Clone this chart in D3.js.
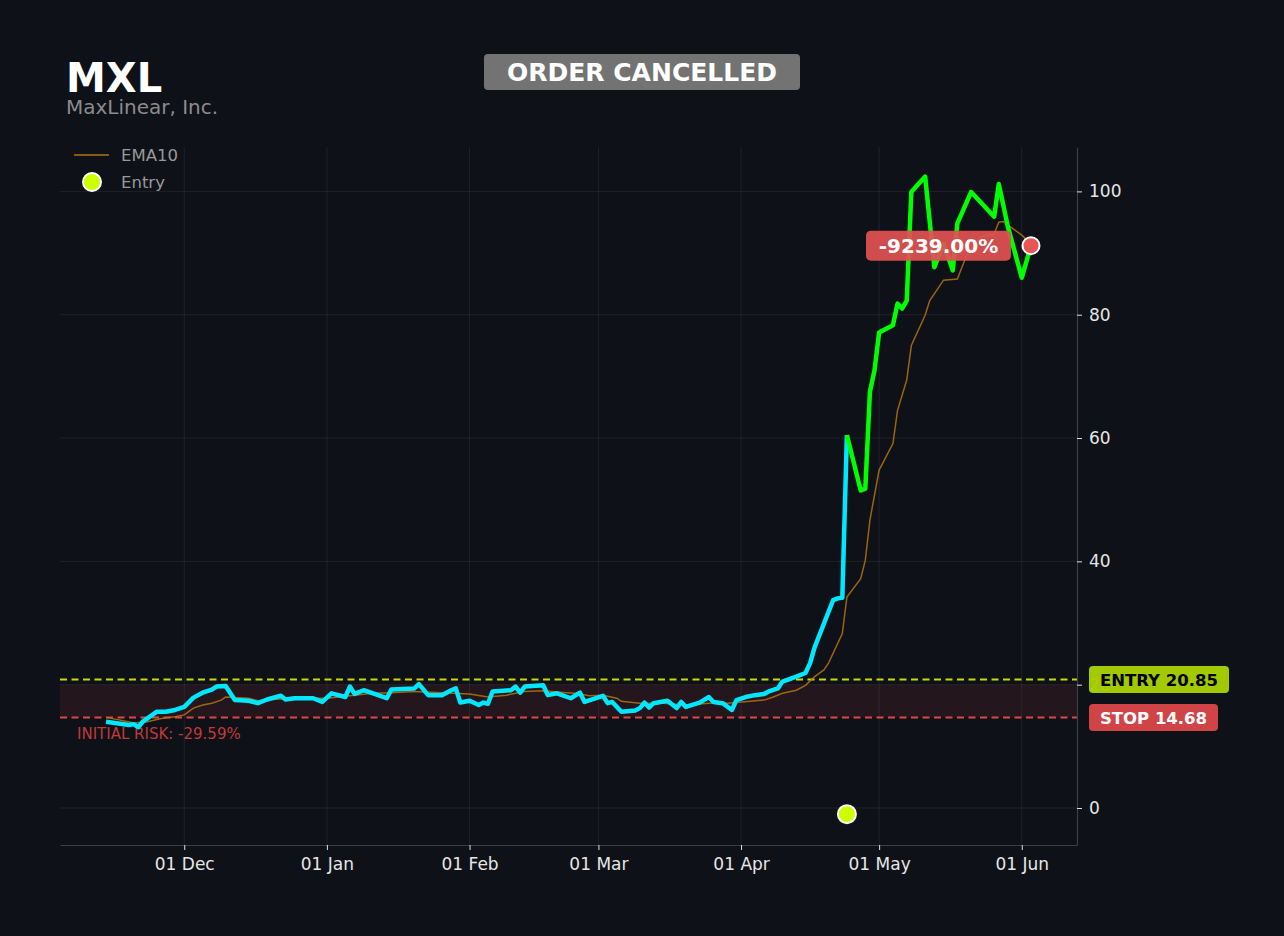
<!DOCTYPE html>
<html>
<head>
<meta charset="utf-8">
<script src="https://cdn.jsdelivr.net/npm/d3@7"></script>
<style>
  html, body { margin: 0; padding: 0; background: #0e1117; }
  svg { display: block; font-family: "DejaVu Sans", sans-serif; }
</style>
</head>
<body>
<div id="chart"></div>
<script>
// price closes
const priceDates = [
  "2024-11-14","2024-11-19","2024-11-20","2024-11-21","2024-11-22","2024-11-25","2024-11-27","2024-11-29",
  "2024-12-01","2024-12-03","2024-12-05","2024-12-07","2024-12-08","2024-12-10","2024-12-12","2024-12-15",
  "2024-12-17","2024-12-19","2024-12-22","2024-12-23","2024-12-25","2024-12-28","2024-12-29","2024-12-31",
  "2025-01-02","2025-01-05","2025-01-06","2025-01-07","2025-01-09","2025-01-14","2025-01-15","2025-01-20",
  "2025-01-21","2025-01-23","2025-01-26","2025-01-28","2025-01-29","2025-01-30","2025-02-01","2025-02-03",
  "2025-02-04","2025-02-05","2025-02-06","2025-02-10","2025-02-11","2025-02-12","2025-02-13","2025-02-17",
  "2025-02-18","2025-02-20","2025-02-23","2025-02-25","2025-02-26","2025-03-02","2025-03-03","2025-03-04",
  "2025-03-06","2025-03-09","2025-03-10","2025-03-11","2025-03-12","2025-03-13","2025-03-16","2025-03-18",
  "2025-03-19","2025-03-20","2025-03-23","2025-03-25","2025-03-26","2025-03-28","2025-03-30","2025-03-31",
  "2025-04-02","2025-04-04","2025-04-06","2025-04-07","2025-04-09","2025-04-10","2025-04-13","2025-04-15",
  "2025-04-16","2025-04-17","2025-04-21","2025-04-22","2025-04-23","2025-04-24","2025-04-27","2025-04-28",
  "2025-04-29","2025-04-30","2025-05-01","2025-05-04","2025-05-05","2025-05-06","2025-05-07","2025-05-08",
  "2025-05-11","2025-05-13","2025-05-15","2025-05-17","2025-05-18","2025-05-21","2025-05-26","2025-05-27",
  "2025-05-28","2025-05-29","2025-06-01","2025-06-03"
];
const priceValues = [
  14.0,13.45,13.6,13.1,14.0,15.6,15.6,15.9,
  16.4,17.9,18.7,19.2,19.7,19.8,17.5,17.4,
  17.0,17.6,18.2,17.6,17.8,17.8,17.8,17.2,
  18.6,18.0,19.7,18.5,19.1,17.8,19.2,19.4,
  20.1,18.3,18.3,19.1,19.4,17.1,17.4,16.7,
  17.1,16.9,18.9,19.1,19.7,18.7,19.7,19.9,
  18.3,18.6,17.8,18.7,17.2,18.2,17.0,17.2,
  15.6,15.8,16.2,17.1,16.3,17.0,17.4,16.2,
  17.2,16.4,17.1,18.0,17.2,17.0,15.9,17.5,
  18.0,18.3,18.5,18.9,19.4,20.5,21.3,21.9,
  23.5,26.1,33.7,34.0,34.1,60.5,51.5,51.8,
  67.5,71.0,77.1,78.3,81.8,81.0,82.3,99.9,
  102.4,87.7,91.5,87.2,94.8,99.9,95.9,101.2,
  97.7,94.2,86.0,91.2
];

// EMA10
const emaDates = [
  "2024-11-14","2024-11-18","2024-11-20","2024-11-23","2024-11-26","2024-11-29","2024-12-01","2024-12-03",
  "2024-12-05","2024-12-07","2024-12-09","2024-12-10","2024-12-15","2024-12-17","2024-12-20","2024-12-25",
  "2025-01-01","2025-01-07","2025-01-11","2025-01-15","2025-01-20","2025-01-26","2025-02-01","2025-02-05",
  "2025-02-09","2025-02-13","2025-02-17","2025-02-22","2025-02-24","2025-02-27","2025-03-02","2025-03-05",
  "2025-03-06","2025-03-10","2025-03-15","2025-03-20","2025-03-25","2025-03-29","2025-03-31","2025-04-03",
  "2025-04-06","2025-04-08","2025-04-10","2025-04-13","2025-04-15","2025-04-17","2025-04-19","2025-04-20",
  "2025-04-23","2025-04-24","2025-04-27","2025-04-28","2025-04-29","2025-05-01","2025-05-04","2025-05-05",
  "2025-05-07","2025-05-08","2025-05-11","2025-05-12","2025-05-15","2025-05-18","2025-05-20","2025-05-23",
  "2025-05-26","2025-05-27","2025-05-28","2025-06-01","2025-06-03"
];
const emaValues = [
  14.7,14.1,13.8,14.0,14.5,14.8,15.1,16.2,
  16.7,17.0,17.5,18.0,17.8,17.4,17.6,17.8,
  17.8,18.3,18.6,18.7,18.9,18.7,18.5,18.0,
  18.3,18.9,19.0,18.7,18.6,18.2,18.3,17.8,
  17.3,17.0,17.0,16.7,17.0,17.0,17.1,17.3,
  17.5,18.0,18.6,19.1,19.9,21.3,22.4,23.5,
  28.3,34.2,37.2,40.2,46.7,54.8,59.1,64.5,
  69.4,75.0,79.9,82.3,85.6,85.8,89.6,92.6,
  93.1,95.0,95.1,92.9,91.5
];

const ticker = "MXL";
const companyName = "MaxLinear, Inc.";
const statusText = "ORDER CANCELLED";
const entryDate = "2025-04-24";
const entryMarkerValue = -1.0;
const entryPrice = 20.85;
const stopPrice = 14.68;
const riskBandTop = 20.0;
const riskText = "INITIAL RISK: -29.59%";
const pnlText = "-9239.00%";
const yTicks = [0, 20, 40, 60, 80, 100];
const xTicks = ["2024-12-01","2025-01-01","2025-02-01","2025-03-01","2025-04-01","2025-05-01","2025-06-01"];
const xDomain = ["2024-11-04", "2025-06-13"];
const yDomain = [-6.0, 107.2];

const width = 1284, height = 936;
const marginTop = 147, marginRight = 207, marginBottom = 91, marginLeft = 60;

const parse = d3.utcParse("%Y-%m-%d");
const price = priceDates.map((d, i) => ({ date: parse(d), value: priceValues[i] }));
const ema = emaDates.map((d, i) => ({ date: parse(d), value: emaValues[i] }));
const entryT = parse(entryDate);

const x = d3.scaleUtc()
  .domain(xDomain.map(parse))
  .range([marginLeft, width - marginRight]);

const y = d3.scaleLinear()
  .domain(yDomain)
  .range([height - marginBottom, marginTop]);

const svg = d3.select("#chart").append("svg")
  .attr("width", width)
  .attr("height", height)
  .attr("viewBox", `0 0 ${width} ${height}`);

svg.append("rect").attr("width", width).attr("height", height).attr("fill", "#0e1117");

// gridlines
svg.append("g")
  .attr("stroke", "#ffffff").attr("stroke-opacity", 0.07).attr("stroke-width", 1)
  .call(g => g.selectAll(".gx").data(xTicks.map(parse)).join("line")
    .attr("x1", d => x(d)).attr("x2", d => x(d))
    .attr("y1", marginTop).attr("y2", height - marginBottom))
  .call(g => g.selectAll(".gy").data(yTicks).join("line")
    .attr("x1", marginLeft).attr("x2", width - marginRight)
    .attr("y1", d => y(d)).attr("y2", d => y(d)));

// risk band between stop and entry
svg.append("rect")
  .attr("x", marginLeft)
  .attr("width", width - marginRight - marginLeft)
  .attr("y", y(riskBandTop))
  .attr("height", y(stopPrice) - y(riskBandTop))
  .attr("fill", "#e0404a").attr("fill-opacity", 0.1);

svg.append("line")
  .attr("x1", marginLeft).attr("x2", width - marginRight)
  .attr("y1", y(entryPrice)).attr("y2", y(entryPrice))
  .attr("stroke", "#c8dc00").attr("stroke-width", 2).attr("stroke-dasharray", "7,4.5");

svg.append("line")
  .attr("x1", marginLeft).attr("x2", width - marginRight)
  .attr("y1", y(stopPrice)).attr("y2", y(stopPrice))
  .attr("stroke", "#e04646").attr("stroke-width", 2).attr("stroke-dasharray", "7,4.5");

svg.append("text")
  .attr("x", 77).attr("y", y(stopPrice) + 22)
  .attr("fill", "#c0393b").attr("font-size", 15)
  .text(riskText);

// axes
svg.append("g")
  .attr("transform", `translate(0,${height - marginBottom})`)
  .call(d3.axisBottom(x).tickValues(xTicks.map(parse)).tickFormat(d3.utcFormat("%d %b"))
    .tickSize(5).tickSizeOuter(0).tickPadding(8))
  .call(g => g.select(".domain").attr("stroke", "#3a3e46").attr("stroke-width", 1.2))
  .call(g => g.selectAll(".tick line").attr("stroke", "#e0e0e0"))
  .call(g => g.selectAll(".tick text").attr("fill", "#e6e6e6").attr("font-size", 17).attr("font-family", "DejaVu Sans"));

svg.append("g")
  .attr("transform", `translate(${width - marginRight},0)`)
  .call(d3.axisRight(y).tickValues(yTicks).tickSize(5).tickSizeOuter(0).tickPadding(7))
  .call(g => g.select(".domain").attr("stroke", "#3a3e46").attr("stroke-width", 1.2))
  .call(g => g.selectAll(".tick line").attr("stroke", "#e0e0e0"))
  .call(g => g.selectAll(".tick text").attr("fill", "#e6e6e6").attr("font-size", 17).attr("font-family", "DejaVu Sans"));

// EMA10
const line = d3.line().x(d => x(d.date)).y(d => y(d.value));
svg.append("path")
  .datum(ema)
  .attr("fill", "none").attr("stroke", "#b5730f").attr("stroke-opacity", 0.85).attr("stroke-width", 1.5)
  .attr("d", line);

// price: cyan before entry, green after
svg.append("path")
  .datum(price.filter(d => d.date <= entryT))
  .attr("fill", "none").attr("stroke", "#00e8ff").attr("stroke-width", 4.5)
  .attr("stroke-linejoin", "round")
  .attr("d", line);
svg.append("path")
  .datum(price.filter(d => d.date >= entryT))
  .attr("fill", "none").attr("stroke", "#00ff00").attr("stroke-width", 4.5)
  .attr("stroke-linejoin", "round")
  .attr("d", line);

// entry marker
svg.append("circle")
  .attr("cx", x(entryT)).attr("cy", y(entryMarkerValue)).attr("r", 9)
  .attr("fill", "#ccff00").attr("stroke", "#ffffff").attr("stroke-width", 2);

// last point + P&L badge
const last = price[price.length - 1];
const lx = x(last.date), ly = y(last.value);
const pnl = svg.append("g");
pnl.append("rect")
  .attr("x", lx - 165).attr("y", ly - 15).attr("width", 145).attr("height", 30).attr("rx", 5)
  .attr("fill", "#e05252").attr("fill-opacity", 0.93);
pnl.append("text")
  .attr("x", lx - 92.5).attr("y", ly + 7)
  .attr("text-anchor", "middle").attr("fill", "#ffffff").attr("font-weight", "bold").attr("font-size", 20)
  .text(pnlText);
svg.append("circle")
  .attr("cx", lx).attr("cy", ly).attr("r", 8.5)
  .attr("fill", "#e85555").attr("stroke", "#ffffff").attr("stroke-width", 2);

// right price badges
const badgeX = width - marginRight + 12;
const entryBadge = svg.append("g");
entryBadge.append("rect")
  .attr("x", badgeX).attr("y", y(entryPrice) - 13.5).attr("width", 140).attr("height", 27).attr("rx", 4)
  .attr("fill", "#a8d000").attr("fill-opacity", 0.97);
entryBadge.append("text")
  .attr("x", badgeX + 70).attr("y", y(entryPrice) + 6.5)
  .attr("text-anchor", "middle").attr("fill", "#000000").attr("font-weight", "bold").attr("font-size", 16.5)
  .text(`ENTRY ${entryPrice.toFixed(2)}`);

const stopBadge = svg.append("g");
stopBadge.append("rect")
  .attr("x", badgeX).attr("y", y(stopPrice) - 13.5).attr("width", 129).attr("height", 27).attr("rx", 4)
  .attr("fill", "#d04448");
stopBadge.append("text")
  .attr("x", badgeX + 64.5).attr("y", y(stopPrice) + 6.5)
  .attr("text-anchor", "middle").attr("fill", "#ffffff").attr("font-weight", "bold").attr("font-size", 16.5)
  .text(`STOP ${stopPrice.toFixed(2)}`);

// legend
const legend = svg.append("g");
legend.append("line")
  .attr("x1", 74).attr("x2", 109).attr("y1", 155).attr("y2", 155)
  .attr("stroke", "#b5730f").attr("stroke-width", 1.5);
legend.append("text")
  .attr("x", 121).attr("y", 161).attr("fill", "#999999").attr("font-size", 16.5).text("EMA10");
legend.append("circle")
  .attr("cx", 92).attr("cy", 182).attr("r", 9)
  .attr("fill", "#ccff00").attr("stroke", "#ffffff").attr("stroke-width", 2);
legend.append("text")
  .attr("x", 121).attr("y", 188).attr("fill", "#999999").attr("font-size", 16.5).text("Entry");

// title block
svg.append("text")
  .attr("x", 66).attr("y", 92)
  .attr("fill", "#ffffff").attr("font-weight", "bold").attr("font-size", 40)
  .text(ticker);
svg.append("text")
  .attr("x", 66).attr("y", 114)
  .attr("fill", "#8c8c8c").attr("font-size", 20)
  .text(companyName);

// status badge
const status = svg.append("g");
status.append("rect")
  .attr("x", 484).attr("y", 54).attr("width", 316).attr("height", 36).attr("rx", 4)
  .attr("fill", "#737373");
status.append("text")
  .attr("x", 642).attr("y", 81)
  .attr("text-anchor", "middle").attr("fill", "#ffffff").attr("font-weight", "bold").attr("font-size", 25)
  .text(statusText);
</script>
</body>
</html>
